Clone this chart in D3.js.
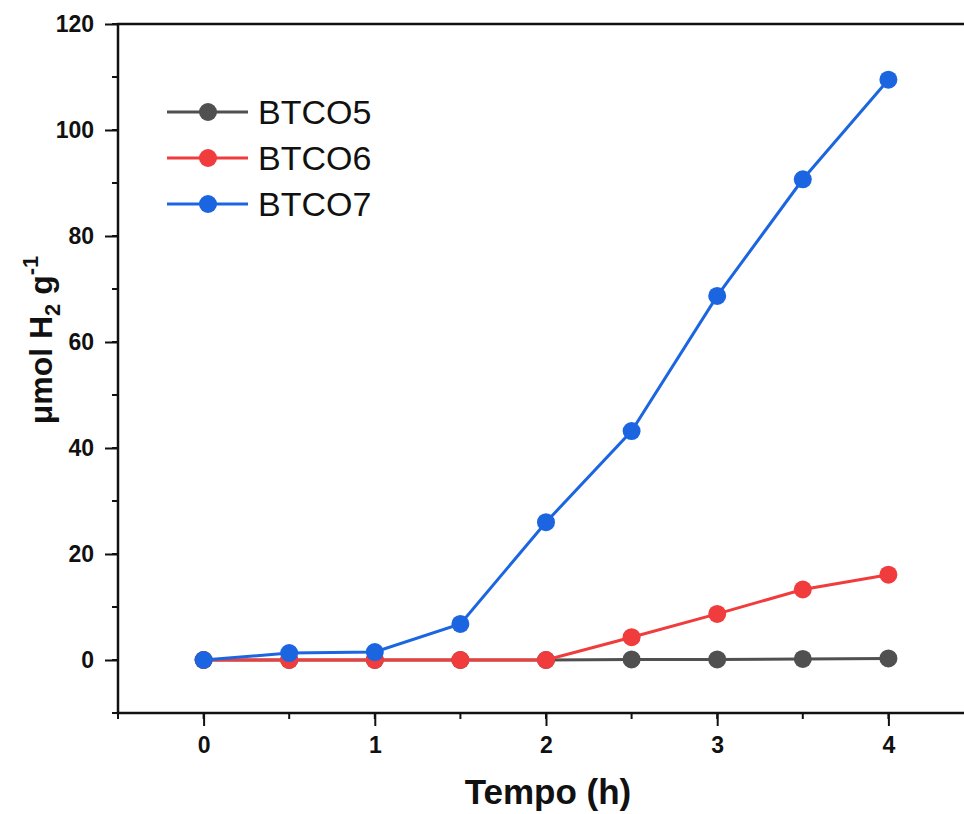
<!DOCTYPE html>
<html>
<head>
<meta charset="utf-8">
<script src="https://cdn.jsdelivr.net/npm/d3@7"></script>
<style>
  body { margin: 0; background: #fff; }
  text { font-family: "Liberation Sans", Arial, sans-serif; }
</style>
</head>
<body>
<div id="chart"></div>
<script>
// data
var tempo = [0, 0.5, 1, 1.5, 2, 2.5, 3, 3.5, 4];
var seriesNames = ["BTCO5", "BTCO6", "BTCO7"];
var btco5 = [0, 0, 0, 0, 0, 0.1, 0.1, 0.2, 0.3];
var btco6 = [0, 0, 0, 0, 0, 4.3, 8.7, 13.3, 16.1];
var btco7 = [0, 1.3, 1.5, 6.8, 26.0, 43.2, 68.7, 90.7, 109.5];
var seriesColors = ["#505050", "#f03c3c", "#1b66e0"];
var xTicks = [0, 1, 2, 3, 4];
var yTicks = [0, 20, 40, 60, 80, 100, 120];

var width = 964, height = 814;
var margin = { left: 118, top: 24, right: -10, bottom: 101 };
var innerWidth = width - margin.left - margin.right;
var innerHeight = height - margin.top - margin.bottom;

var svg = d3.select("#chart").append("svg")
    .attr("width", width)
    .attr("height", height);
var g = svg.append("g")
    .attr("transform", "translate(" + margin.left + "," + margin.top + ")");

var x = d3.scaleLinear().domain([-0.5, 4.5]).range([0, innerWidth]);
var y = d3.scaleLinear().domain([-10, 120]).range([innerHeight, 0]);

// frame (right side falls outside the picture, as in the original)
g.append("rect")
    .attr("width", innerWidth).attr("height", innerHeight)
    .attr("fill", "none").attr("stroke", "#111").attr("stroke-width", 2.5);

// minor ticks
var xMinor = d3.range(-0.5, 4.6, 0.5);
var yMinor = d3.range(-10, 121, 10);
g.selectAll(".xminor").data(xMinor).enter().append("line")
    .attr("x1", function(d) { return x(d); }).attr("x2", function(d) { return x(d); })
    .attr("y1", innerHeight).attr("y2", innerHeight + 6)
    .attr("stroke", "#111").attr("stroke-width", 2);
g.selectAll(".yminor").data(yMinor).enter().append("line")
    .attr("y1", function(d) { return y(d); }).attr("y2", function(d) { return y(d); })
    .attr("x1", 0).attr("x2", -6)
    .attr("stroke", "#111").attr("stroke-width", 2);

// major axes
var xAxis = g.append("g")
    .attr("transform", "translate(0," + innerHeight + ")")
    .call(d3.axisBottom(x).tickValues(xTicks).tickSize(13).tickPadding(11).tickFormat(d3.format("d")));
var yAxis = g.append("g")
    .call(d3.axisLeft(y).tickValues(yTicks).tickSize(13).tickPadding(11).tickFormat(d3.format("d")));
[xAxis, yAxis].forEach(function(a) {
    a.attr("font-size", 23).attr("font-weight", "bold")
        .attr("font-family", "Liberation Sans, Arial, sans-serif");
    a.select(".domain").remove();
    a.selectAll("line").attr("stroke", "#111").attr("stroke-width", 2);
    a.selectAll("text").attr("fill", "#111");
});

// series
var allSeries = [btco5, btco6, btco7];
var line = d3.line()
    .x(function(d, i) { return x(tempo[i]); })
    .y(function(d) { return y(d); });

allSeries.forEach(function(vals, k) {
    var sg = g.append("g");
    sg.append("path")
        .attr("d", line(vals))
        .attr("fill", "none")
        .attr("stroke", seriesColors[k])
        .attr("stroke-width", 3);
    sg.selectAll("circle").data(vals).enter().append("circle")
        .attr("cx", function(d, i) { return x(tempo[i]); })
        .attr("cy", function(d) { return y(d); })
        .attr("r", 9)
        .attr("fill", seriesColors[k]);
});

// legend
var legend = svg.append("g").attr("transform", "translate(167,112)");
seriesNames.forEach(function(name, k) {
    var row = legend.append("g").attr("transform", "translate(0," + (k * 46) + ")");
    row.append("line").attr("x1", 0).attr("x2", 81).attr("y1", 0).attr("y2", 0)
        .attr("stroke", seriesColors[k]).attr("stroke-width", 3);
    row.append("circle").attr("cx", 41).attr("cy", 0).attr("r", 9).attr("fill", seriesColors[k]);
    row.append("text").attr("x", 91).attr("y", 12)
        .style("font-size", "34px").attr("fill", "#111").text(name);
});

// axis titles
svg.append("text")
    .attr("x", 548).attr("y", 804)
    .attr("text-anchor", "middle")
    .style("font-size", "35px").style("font-weight", "bold").attr("fill", "#111")
    .text("Tempo (h)");

var yTitle = svg.append("text")
    .attr("transform", "translate(52,340) rotate(-90)")
    .attr("text-anchor", "middle")
    .style("font-size", "32px").style("font-weight", "bold").attr("fill", "#111");
yTitle.append("tspan").text("μmol H");
yTitle.append("tspan").attr("dy", 8).style("font-size", "22px").text("2");
yTitle.append("tspan").attr("dy", -8).text(" g");
yTitle.append("tspan").attr("dy", -14).style("font-size", "22px").text("-1");
</script>
</body>
</html>
